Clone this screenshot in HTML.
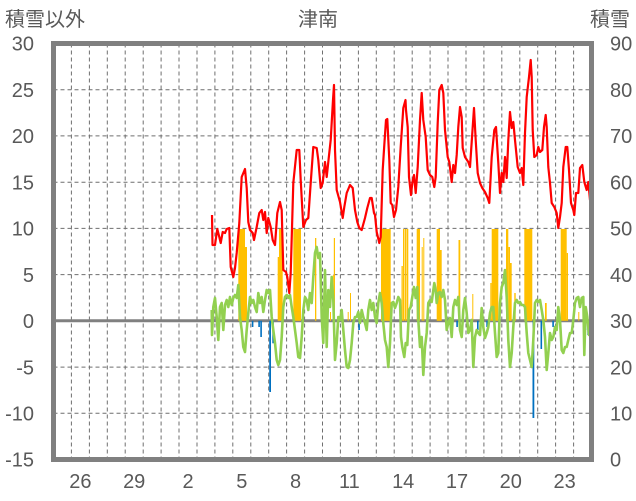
<!DOCTYPE html>
<html><head><meta charset="utf-8"><style>
html,body{margin:0;padding:0;background:#fff;}
svg{display:block;}
text{font-family:"Liberation Sans","Noto Sans CJK JP",sans-serif;fill:#595959;font-size:20px;}
</style></head><body>
<svg width="636" height="501" viewBox="0 0 636 501" xmlns="http://www.w3.org/2000/svg">
<rect width="636" height="501" fill="#fff"/>
<g stroke="#6f6f6f" stroke-width="1" stroke-dasharray="4,3" fill="none">
<path d="M53.5 89.7H591.5M53.5 135.9H591.5M53.5 182.2H591.5M53.5 228.4H591.5M53.5 274.6H591.5M53.5 367.1H591.5M53.5 413.3H591.5"/>
<path d="M71.4 43.5V459.5M89.4 43.5V459.5M107.3 43.5V459.5M125.2 43.5V459.5M143.2 43.5V459.5M161.1 43.5V459.5M179 43.5V459.5M197 43.5V459.5M214.9 43.5V459.5M232.8 43.5V459.5M250.8 43.5V459.5M268.7 43.5V459.5M286.6 43.5V459.5M304.6 43.5V459.5M322.5 43.5V459.5M340.4 43.5V459.5M358.4 43.5V459.5M376.3 43.5V459.5M394.2 43.5V459.5M412.2 43.5V459.5M430.1 43.5V459.5M448 43.5V459.5M466 43.5V459.5M483.9 43.5V459.5M501.8 43.5V459.5M519.8 43.5V459.5M537.7 43.5V459.5M555.6 43.5V459.5M573.6 43.5V459.5"/>
</g>
<line x1="53.5" y1="320.8" x2="591.5" y2="320.8" stroke="#808080" stroke-width="3"/>
<g fill="#FFC000">
<rect x="238.3" y="229" width="6.7" height="91.8"/><rect x="245" y="247" width="2" height="73.8"/>
<rect x="277.7" y="257" width="1.3" height="63.8"/><rect x="279" y="229" width="3.7" height="91.8"/>
<rect x="293.3" y="229" width="7.7" height="91.8"/>
<rect x="315" y="238" width="1.3" height="82.8"/>
<rect x="330" y="312" width="1" height="8.8"/>
<rect x="332.8" y="275" width="1" height="45.8"/><rect x="333.8" y="238" width="1.2" height="82.8"/>
<rect x="347.7" y="312" width="1" height="8.8"/>
<rect x="350" y="293" width="1" height="27.8"/>
<rect x="381" y="229" width="9.7" height="91.8"/>
<rect x="401.5" y="266" width="1.3" height="54.8"/><rect x="403" y="229" width="1.3" height="91.8"/><rect x="404.8" y="229" width="1.2" height="91.8"/><rect x="406.4" y="229" width="1.9" height="91.8"/>
<rect x="416.7" y="229" width="3.3" height="91.8"/>
<rect x="421.7" y="247" width="1" height="73.8"/>
<rect x="423.3" y="238" width="1" height="82.8"/>
<rect x="436.7" y="229" width="3.3" height="91.8"/><rect x="440" y="250" width="1.7" height="70.8"/>
<rect x="458.5" y="240" width="1.8" height="80.8"/>
<rect x="472.3" y="294" width="1" height="26.8"/>
<rect x="490.3" y="283" width="1.4" height="37.8"/><rect x="491.7" y="229" width="6.6" height="91.8"/>
<rect x="506" y="229" width="2.3" height="91.8"/><rect x="508.3" y="247" width="1.7" height="73.8"/><rect x="510" y="263" width="1.7" height="57.8"/>
<rect x="514.3" y="293" width="1.4" height="27.8"/>
<rect x="524.3" y="229" width="8" height="91.8"/>
<rect x="545" y="303" width="1.7" height="17.8"/>
<rect x="560.7" y="229" width="6" height="91.8"/><rect x="566.7" y="253" width="1.3" height="67.8"/>
<rect x="578.3" y="312" width="1" height="8.8"/>
</g>
<g fill="#0070C0">
<rect x="251.8" y="320.8" width="1.6" height="6.2"/>
<rect x="258.3" y="320.8" width="1.6" height="6.2"/>
<rect x="260.3" y="320.8" width="1.6" height="16.2"/>
<rect x="269.2" y="320.8" width="1.8" height="71.2"/>
<rect x="272.3" y="320.8" width="1.6" height="22.5"/>
<rect x="358.3" y="320.8" width="1.6" height="9.2"/>
<rect x="456.3" y="320.8" width="1.6" height="6.2"/>
<rect x="477" y="320.8" width="1.6" height="9.2"/>
<rect x="486.3" y="320.8" width="1.6" height="6.2"/>
<rect x="532.5" y="320.8" width="1.8" height="97.2"/>
<rect x="540.5" y="320.8" width="1.6" height="28.2"/>
<rect x="552.3" y="320.8" width="1.6" height="6.2"/>
<rect x="584.8" y="320.8" width="1.6" height="9.2"/>
<rect x="587.3" y="320.8" width="1.6" height="14.2"/>
</g>
<polyline fill="none" stroke="#92D050" stroke-width="2.6" stroke-linejoin="round" points="211.7,310 212,335 213.3,307 215,298 216.7,317 218.3,340 220,307 221.7,303 223.3,330 225,305 226.7,300 228.3,307 230,297 231.7,305 233.3,298 235,295 236.7,298 238.3,285 240,317 241.7,330 243.3,347 245,352 246.7,330 248.3,313 250,297 251.7,303 253.3,300 255,307 256.7,312 258.3,293 260,303 261.7,297 263.3,312 265,300 266.7,290 268.3,293 270,290 271.7,317 273.3,330 275,343 276.7,360 278.3,365 280,360 281.7,337 283.3,307 285,297 286.7,295 288.3,298 290,295 291.7,307 293.3,317 295,330 296.7,343 298.3,357 300,358 301.7,337 303.3,310 305,297 306.7,300 308.3,310 310,293 311.7,303 313.3,277 315,253 316.7,247 318.3,258 320,253 321.7,317 323.3,343 325,270 326.7,347 328.3,290 330,307 331.7,277 333.3,300 335,360 336.7,343 338.3,317 340,320 341.7,310 343.3,330 345,350 346.7,367 348.3,368 350,360 351.7,343 353.3,323 355,317 356.7,317 358.3,312 360,323 361.7,310 363.3,317 365,323 366.7,330 368.3,310 370,300 371.7,310 373.3,303 375,317 376.7,323 378.3,303 380,293 381.7,303 383.3,323 385,340 386.7,347 388.3,367 390,343 391.7,303 393.3,302 395,308 396.7,303 398.3,297 400,300 401,337 402.3,347 404.3,357 405.7,343 407.3,345 409,310 410.7,307 412.3,297 414,287 415.7,298 417.3,287 418.3,320 420,347 421.7,337 423.3,375 425,347 426.7,333 428.3,303 430,300 431.7,302 434.3,283 435.7,290 436.7,303 438.3,293 440,292 441.7,297 443.3,290 445,300 446.7,330 448.3,323 450,318 451.7,337 453.3,307 455,300 456.7,305 458.3,297 460,330 461.7,337 463.3,310 465,298 466.7,313 468.3,333 470,330 471.7,320 473.3,367 475,337 476.7,330 478.3,333 480,335 481.7,308 483.3,327 485,338 486.7,333 488.3,327 490,313 491.7,307 493.3,307 495,333 496.7,357 498.3,353 500,303 501.7,287 503.3,283 505,270 506.7,297 508.3,340 510,367 511.7,353 513.3,327 515,303 516.7,300 518.3,303 520,302 521.7,305 523.3,305 525,307 526.7,333 528.3,353 530,360 531.7,367 533.3,340 535,303 536.7,300 538.3,302 540,300 541.7,310 543.3,320 545,337 546.7,370 548.3,353 550,333 551.7,340 553.3,337 555,327 556.7,330 558.3,307 560,320 561.7,350 563.3,353 565,347 566.7,347 568.3,340 570,333 571.7,333 573.3,320 575,303 576.7,298 578.3,297 580,307 581.7,298 583.3,297 584.3,355 585.7,307 587.3,317 589,335 590.7,323"/>
<polyline fill="none" stroke="#FF0000" stroke-width="2.2" stroke-linejoin="round" points="212,215 212.5,245 215,245 217.3,229 219.3,237 220.7,243 222.7,232 225,233 226.7,229 229.3,228 230.7,267 233.3,277 235,268 236.7,253 239.3,223 241.7,177 245,169 246.7,188 248.3,222 250,230 252.7,233 254,240 256.7,227 259.3,213 261.7,210 263.3,220 265,212 266.7,233 268.3,218 270.7,227 272.7,240 275,245 277.3,213 280,202 281.7,210 283.3,270 286,272 287.3,277 289.3,293 290.7,273 293.3,183 296.7,150 299.3,150 300.7,180 303.3,227 306,220 308.3,218 310.7,183 313.3,147 316.7,148 318.3,160 320.7,188 322.7,183 325,162 326.7,177 328.3,162 330.7,140 333,100 334,85 335,150 336.7,190 340,202 342.7,218 344.3,207 346.7,193 350,185 352.7,188 355,210 357.3,222 359.3,228 361.7,230 365,218 367.3,208 370,198 371.7,198 374,213 375,215 376.7,232 379.3,243 380.7,237 382.7,170 384.3,145 386,120 387.3,119 389.3,160 390.7,203 392.3,205 394,217 396,210 398.3,187 400.7,147 403.3,108 405.5,100 406,110 407.7,127 409,177 411,195 412.3,183 414,175 415.7,193 417.7,167 420,120 421.7,93 423.3,120 425.7,137 427.7,170 430,175 432.3,177 434.3,187 435.7,177 437.7,123 439.3,90 441.7,85 443.3,93 445,130 447.7,157 449.3,162 451.7,182 453.3,165 455,173 456.7,155 458.3,127 460,107 461.7,117 462.7,148 465,157 468.3,162 470,167 471.7,142 474,108 475.7,140 477.7,173 480,183 482.3,188 485,192 487.7,198 489.3,203 491.7,157 494.3,130 496,127 498.3,163 500,193 501.7,173 503.3,182 505,157 506.7,178 508.3,140 510,112 511.7,128 513.3,122 515,140 517.7,167 520,173 521.7,168 523.3,185 525,133 526.7,97 529,77 530.7,60 531.7,77 532.7,130 534.3,157 536.7,155 538.3,147 540,152 542.3,150 544,127 545.7,115 546.7,127 548.3,167 550,183 551.7,203 554.3,207 556.7,213 558.3,228 560,217 561.7,203 563.3,167 565.7,147 567.3,147 569,170 571,203 573.3,210 574.3,215 576,193 578.3,193 580,168 582.3,165 584.3,182 586.7,190 588.3,182 590,200 591.5,197"/>
<rect x="53.5" y="43.5" width="538" height="416" fill="none" stroke="#808080" stroke-width="5"/>
<text x="5" y="26">積雪以外</text>
<text x="298" y="26">津南</text>
<text x="590" y="26">積雪</text>
<g text-anchor="end">
<text x="34" y="50.7">30</text>
<text x="34" y="96.9">25</text>
<text x="34" y="143.1">20</text>
<text x="34" y="189.4">15</text>
<text x="34" y="235.6">10</text>
<text x="34" y="281.8">5</text>
<text x="34" y="328">0</text>
<text x="34" y="374.3">-5</text>
<text x="34" y="420.5">-10</text>
<text x="34" y="466.7">-15</text>
</g>
<g>
<text x="610" y="50.7">90</text>
<text x="610" y="96.9">80</text>
<text x="610" y="143.1">70</text>
<text x="610" y="189.4">60</text>
<text x="610" y="235.6">50</text>
<text x="610" y="281.8">40</text>
<text x="610" y="328">30</text>
<text x="610" y="374.3">20</text>
<text x="610" y="420.5">10</text>
<text x="610" y="466.7">0</text>
</g>
<g text-anchor="middle">
<text x="80.4" y="488">26</text>
<text x="134.2" y="488">29</text>
<text x="188" y="488">2</text>
<text x="241.8" y="488">5</text>
<text x="295.6" y="488">8</text>
<text x="349.4" y="488">11</text>
<text x="403.2" y="488">14</text>
<text x="457" y="488">17</text>
<text x="510.8" y="488">20</text>
<text x="564.6" y="488">23</text>
</g>
</svg>
</body></html>
